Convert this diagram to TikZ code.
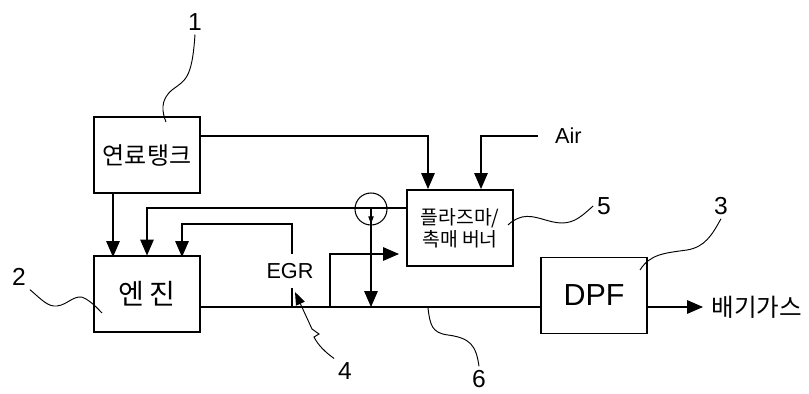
\documentclass[tikz,border=0pt]{standalone}
\usepackage{fontspec}
\setmainfont{Liberation Sans}
\newfontfamily\kr{Noto Sans CJK KR}
\usetikzlibrary{arrows.meta, positioning}

\begin{document}
\begin{tikzpicture}[
    x=0.03cm, y=-0.03cm,
    line width=0.9pt,
    box/.style={rectangle, draw, line width=0.9pt, align=center, inner sep=0pt,
                minimum width=3.18cm, minimum height=2.28cm},
    kor/.style={font=\kr\fontsize{#1}{#1}\selectfont},
    lat/.style={font=\fontsize{#1}{#1}\selectfont},
    arr/.style={-{Triangle[length=13.5pt, width=11.5pt]}},
    tip/.style={-{Triangle[length=6.5pt, width=4.5pt]}},
    lead/.style={line width=0.8pt},
    num/.style={font=\fontsize{21}{24}\selectfont, inner sep=3pt}
]
\useasboundingbox (0,0) rectangle (809,394);

\node[box, kor=20.5] (tank)   at (147,155) {연료탱크};
\node[box, kor=24] (engine) at (147,294) {엔\hspace{5pt}진};
\node[box, font=\kr\fontsize{16.5}{19}\selectfont] (plasma) at (460,228) {플라즈마/\\촉매 버너};
\node[box, lat=26] (dpf)    at (594,295.5) {DPF};

\node[circle, draw, minimum size=0.96cm, inner sep=0pt] (valve) at (371,209) {};
\node[lat=18.5, inner sep=0pt, minimum height=1cm] (egr) at (290,271) {EGR};
\node[lat=18.5, anchor=west, inner xsep=0.5cm, inner ysep=0pt] (air) at (538,136) {Air};
\node[kor=21, anchor=west, inner xsep=0.24cm, inner ysep=0pt] (gas) at (703,307) {배기가스};

\node[num] (n1) at (195,22) {1};
\node[num] (n2) at (19,277) {2};
\node[num] (n3) at (721,206) {3};
\node[num] (n4) at (345,371) {4};
\node[num] (n5) at (604,206) {5};
\node[num] (n6) at (479,379) {6};

\coordinate (e1) at (113,257);
\coordinate (e3) at (182,257);
\coordinate (t1) at (200,136);
\coordinate (p1) at (428,189);
\coordinate (p2) at (481,189);
\coordinate (pl) at (407,208);
\coordinate (ex0) at (200,307);
\coordinate (egrlow) at (292,307);
\coordinate (egrtop) at (292,224);
\coordinate (by0) at (330,307);
\coordinate (bytip) at (399,254);
\coordinate (l1) at (166,122);
\coordinate (l2) at (102,313);
\coordinate (l3) at (640,270);
\coordinate (l4) at (295,292);
\coordinate (l5) at (508,225);
\coordinate (l6) at (428,308);

\draw[arr] (tank.south -| e1) -- (e1);
\draw[arr] (t1) -| (p1);
\draw[arr] (air.west) -| (p2);
\draw[arr] (pl) -| (engine.north);
\draw (egrlow) -- (egrlow |- egr.south);
\draw[arr] (egrlow |- egr.north) -- (egrtop) -| (e3);
\draw (ex0) -- (dpf.west |- ex0);
\draw[arr] (dpf.east |- ex0) -- (gas.west);
\draw[arr] (by0) |- (bytip);
\draw[arr] (valve.center) -- (valve.center |- ex0);
\draw[tip] (valve.center) -- ++(0,15);

\draw[lead] (n1.south) .. controls (192,80) and (185,80) .. (172,90) .. controls (160,100) and (162,112) .. (l1);
\draw[lead] (n2.south east) .. controls (42,300) and (48,307) .. (57,306) .. controls (68,305) and (76,292) .. (86,299) .. controls (94,304) and (98,309) .. (l2);
\draw[lead] (n3.south) .. controls (712,235) and (705,247) .. (687,250) .. controls (665,253) and (650,254) .. (l3);
\draw[lead, -{Triangle[length=11pt, width=8pt]}] (n4.north west) .. controls (325,352) and (318,345) .. (314,337) -- (319,334) -- (312,329) -- (l4);
\draw[lead] (n5.west) .. controls (583,215) and (575,223) .. (562,223) .. controls (548,223) and (535,214) .. (522,217) .. controls (515,219) and (511,222) .. (l5);
\draw[lead] (l6) .. controls (430,325) and (432,333) .. (448,335) .. controls (470,338) and (476,345) .. (n6.north);
\end{tikzpicture}
\end{document}
